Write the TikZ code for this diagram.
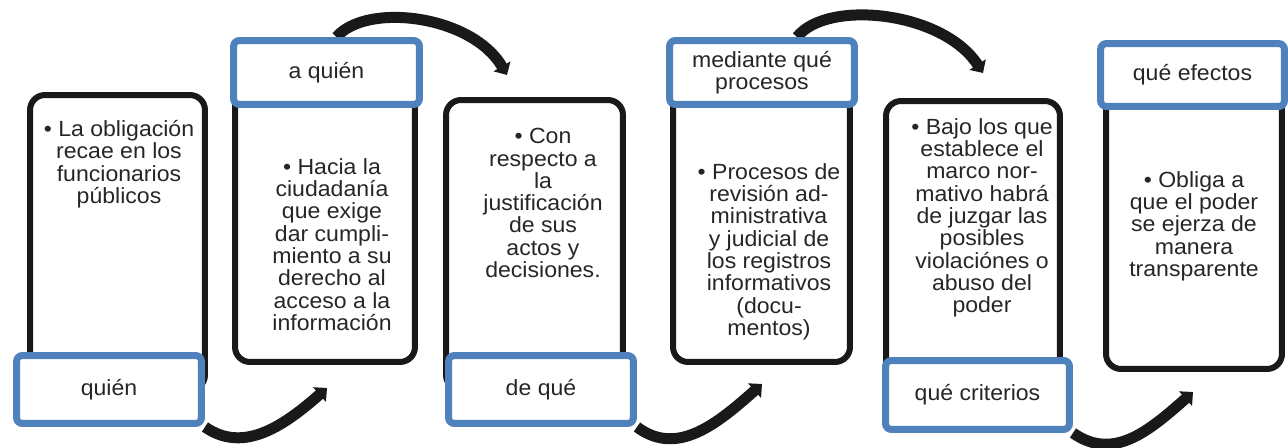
\documentclass[tikz,border=0pt]{standalone}
\usepackage[rgb]{xcolor}
\usepackage{fontspec}
\setmainfont[FakeStretch=1.05]{Liberation Sans}
\usepackage{tikz}
\usetikzlibrary{arrows.meta,backgrounds,calc}

\definecolor{tagblue}{HTML}{4F81BD}
\definecolor{inkgray}{HTML}{262626}

\begin{document}
\begin{tikzpicture}[x=0.02cm, y=0.02cm,
  card/.style={draw=black!90, line width=0.12cm, rounded corners=0.3cm, inner sep=0},
  tag/.style={draw=tagblue, fill=white, line width=0.14cm, rounded corners=0.12cm, align=center, inner sep=0, font=\fontsize{12.5}{12.7}\selectfont, text=inkgray},
  txt/.style={align=center, inner sep=0, anchor=north, font=\fontsize{12.5}{12.7}\selectfont, text=inkgray},
  flow/.style={draw=black!90, line width=0.22cm, -{Triangle[length=0.2cm, width=0.38cm]}}]

\useasboundingbox (0,0) rectangle (1288,447);

% black cards
\path
(117.5,204.5) node[card, minimum width=3.5cm, minimum height=5.9cm](b1) {}
(325,231) node[card, minimum width=3.6cm, minimum height=5.84cm](b2) {}
(534.5,202) node[card, minimum width=3.54cm, minimum height=5.8cm](b3) {}
(761.5,231) node[card, minimum width=3.54cm, minimum height=5.84cm](b4) {}
(973,199) node[card, minimum width=3.48cm, minimum height=5.88cm](b5) {}
(1194,225) node[card, minimum width=3.52cm, minimum height=5.88cm](b6) {};

% texts in the cards
\path
(119,327) node[txt](t1) {• La obligación\\recae en los\\funcionarios\\públicos}
(332,289) node[txt](t2) {• Hacia la\\ciudadanía\\que exige\\dar cumpli-\\miento a su\\derecho al\\acceso a la\\información}
(543,319) node[txt](t3) {• Con\\respecto a\\la\\justificación\\de sus\\actos y\\decisiones.}
(769,284) node[txt](t4) {• Procesos de\\revisión ad-\\ministrativa\\y judicial de\\los registros\\informativos\\(docu-\\mentos)}
(982,329) node[txt](t5) {• Bajo los que\\establece el\\marco nor-\\mativo habrá\\de juzgar las\\posibles\\violaciónes o\\abuso del\\poder}
(1194,276) node[txt](t6) {• Obliga a\\que el poder\\se ejerza de\\manera\\transparente};

% blue tags
\path
(109,57.5) node[tag, minimum width=3.7cm, minimum height=1.36cm](l1) {quién}
(326.5,374.5) node[tag, minimum width=3.72cm, minimum height=1.28cm](l2) {a quién}
(541,57.5) node[tag, minimum width=3.7cm, minimum height=1.36cm](l3) {de qué}
(762,374.5) node[tag, minimum width=3.7cm, minimum height=1.28cm](l4) {mediante qué\\procesos}
(977.5,52) node[tag, minimum width=3.68cm, minimum height=1.38cm](l5) {qué criterios}
(1192.5,372) node[tag, minimum width=3.68cm, minimum height=1.26cm](l6) {qué efectos};

%% arrow ends
\coordinate (e1) at (327,59);
\coordinate (e2) at (507,372);
\coordinate (e3) at (762,63);
\coordinate (e4) at (983,374);
\coordinate (e5) at (1193,55);

%% bent arrows behind the boxes
\begin{scope}[on background layer]
\draw[flow] (l1.south east) .. controls +(40,-28) and +(-40,-35) .. (e1);
\draw[flow] ($(l2.north)+(10,0)$) .. controls +(30,35) and +(-35,60) .. (e2);
\draw[flow] (l3.south east) .. controls +(40,-30) and +(-45,-40) .. (e3);
\draw[flow] ($(l4.north)+(35,0)$) .. controls +(30,38) and +(-40,62) .. (e4);
\draw[flow] (l5.south east) .. controls +(40,-28) and +(-45,-40) .. (e5);
\end{scope}

\end{tikzpicture}
\end{document}
